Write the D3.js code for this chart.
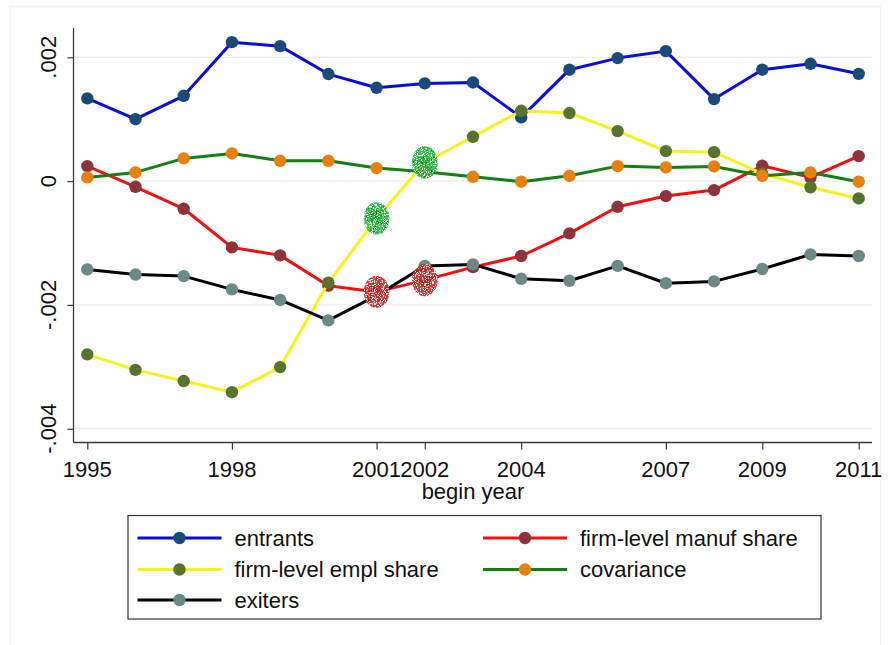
<!DOCTYPE html>
<html>
<head>
<meta charset="utf-8">
<script src="https://cdn.jsdelivr.net/npm/d3@7"></script>
<style>
  html, body { margin: 0; padding: 0; background: #fff; }
  svg { display: block; font-family: "Liberation Sans", Arial, sans-serif; }
</style>
</head>
<body>
<svg id="chart" width="891" height="645"></svg>
<script>
// Decomposition of the change by begin year
const years = [1995, 1996, 1997, 1998, 1999, 2000, 2001, 2002, 2003, 2004, 2005, 2006, 2007, 2008, 2009, 2010, 2011];

const entrants = [0.001336, 0.001000, 0.001378, 0.002245, 0.002180, 0.001729, 0.001507, 0.001578, 0.001594,
                  0.001029, 0.001800, 0.001987, 0.002100, 0.001325, 0.001800, 0.001895, 0.001733];
const manufShare = [0.000242, -0.000092, -0.000447, -0.001071, -0.001200, -0.001690, -0.001790, -0.001600, -0.001390,
                    -0.001210, -0.000845, -0.000415, -0.000242, -0.000145, 0.000247, 0.000060, 0.000404];
const emplShare = [-0.002800, -0.003050, -0.003230, -0.003410, -0.003005, -0.001640, -0.000603, 0.000300, 0.000716,
                   0.001136, 0.001100, 0.000808, 0.000485, 0.000468, 0.000120, -0.000100, -0.000280];
const covariance = [0.000060, 0.000140, 0.000367, 0.000447, 0.000328, 0.000328, 0.000210, 0.000150, 0.000070,
                    -0.000010, 0.000086, 0.000242, 0.000220, 0.000237, 0.000086, 0.000140, -0.000010];
const exiters = [-0.001427, -0.001510, -0.001535, -0.001750, -0.001920, -0.002250, -0.001850, -0.001370, -0.001346,
                 -0.001578, -0.001610, -0.001370, -0.001650, -0.001620, -0.001420, -0.001185, -0.001210];

const xTicks = [1995, 1998, 2001, 2002, 2004, 2007, 2009, 2011];
const yTicks = [0.002, 0, -0.002, -0.004];
const yTickLabels = [".002", "0", "-.002", "-.004"];
const xTitle = "begin year";

// Years whose points are circled on the two share series
const circledYears = [2001, 2002];

const series = [
  { name: "entrants", values: entrants, line: "#0a0ae6", marker: "#1b4a78" },
  { name: "firm-level manuf share", values: manufShare, line: "#f01010", marker: "#8e333a" },
  { name: "firm-level empl share", values: emplShare, line: "#f7f21c", marker: "#56742e" },
  { name: "covariance", values: covariance, line: "#128012", marker: "#e6800e" },
  { name: "exiters", values: exiters, line: "#000000", marker: "#6b8a84" }
];

const FONT = 22;
const svg = d3.select("#chart");

// faint outer frame
svg.append("rect").attr("x", 10.5).attr("y", 6.5).attr("width", 870).attr("height", 660)
  .attr("fill", "none").attr("stroke", "#f3f3f3").attr("stroke-width", 1);

const plot = { left: 73.5, right: 872, top: 28, bottom: 442.5 };

const x = d3.scaleLinear().domain([1995, 2011]).range([87.3, 858.7]);
const y = d3.scaleLinear().domain([-0.004, 0.002]).range([428.7, 57.3]);

// gridlines
svg.append("g").selectAll("line").data(yTicks).join("line")
  .attr("x1", plot.left).attr("x2", plot.right)
  .attr("y1", d => y(d)).attr("y2", d => y(d))
  .attr("stroke", "#ececec").attr("stroke-width", 1.2);

// y axis
const yAxis = svg.append("g").attr("transform", `translate(${plot.left},0)`)
  .call(d3.axisLeft(y).tickValues(yTicks).tickSize(6).tickFormat(""));
yAxis.select(".domain").attr("d", `M0,${plot.top}V${plot.bottom}`).attr("stroke", "#3a3a3a").attr("stroke-width", 1.3);
yAxis.selectAll(".tick line").attr("stroke", "#3a3a3a").attr("stroke-width", 1.2);

svg.append("g").selectAll("text").data(yTicks).join("text")
  .attr("transform", d => `translate(56,${y(d)}) rotate(-90)`)
  .attr("text-anchor", "middle")
  .attr("font-size", FONT).attr("fill", "#111")
  .text((d, i) => yTickLabels[i]);

// x axis
const xAxis = svg.append("g").attr("transform", `translate(0,${plot.bottom})`)
  .call(d3.axisBottom(x).tickValues(xTicks).tickSize(7).tickFormat(""));
xAxis.select(".domain").attr("d", `M${plot.left},0H${plot.right}`).attr("stroke", "#3a3a3a").attr("stroke-width", 1.3);
xAxis.selectAll(".tick line").attr("stroke", "#3a3a3a").attr("stroke-width", 1.2);

svg.append("g").selectAll("text").data(xTicks).join("text")
  .attr("x", d => x(d)).attr("y", 477)
  .attr("text-anchor", "middle")
  .attr("font-size", FONT).attr("fill", "#111")
  .text(d => d);

svg.append("text").attr("x", 473).attr("y", 499)
  .attr("text-anchor", "middle").attr("font-size", FONT).attr("fill", "#111")
  .text(xTitle);

// series: line then markers, in legend order
const lineGen = d3.line().x(d => x(d.year)).y(d => y(d.value));
series.forEach(s => {
  const pts = years.map((yr, i) => ({ year: yr, value: s.values[i] }));
  const g = svg.append("g");
  g.append("path").datum(pts).attr("d", lineGen)
    .attr("fill", "none").attr("stroke", s.line).attr("stroke-width", 3)
    .attr("stroke-linejoin", "round");
  g.selectAll("circle").data(pts).join("circle")
    .attr("cx", d => x(d.year)).attr("cy", d => y(d.value)).attr("r", 6.2)
    .attr("fill", s.marker);
});

// speckled highlight ovals
const defs = svg.append("defs");
const f = defs.append("filter").attr("id", "speckle")
  .attr("x", "-20%").attr("y", "-20%").attr("width", "140%").attr("height", "140%");
f.append("feTurbulence").attr("type", "fractalNoise").attr("baseFrequency", 1.1)
  .attr("numOctaves", 2).attr("seed", 4).attr("result", "noise");
f.append("feColorMatrix").attr("in", "noise").attr("type", "matrix")
  .attr("values", "0 0 0 0 1  0 0 0 0 1  0 0 0 0 1  9 0 0 0 -4.9").attr("result", "dots");
f.append("feComposite").attr("in", "dots").attr("in2", "SourceAlpha").attr("operator", "in").attr("result", "dotsIn");
f.append("feTurbulence").attr("type", "fractalNoise").attr("baseFrequency", 0.8)
  .attr("numOctaves", 1).attr("seed", 11).attr("result", "noise2");
f.append("feColorMatrix").attr("in", "noise2").attr("type", "matrix")
  .attr("values", "0 0 0 0 0  0 0 0 0 0.1  0 0 0 0 0  9 0 0 0 -5.2").attr("result", "dark");
f.append("feComposite").attr("in", "dark").attr("in2", "SourceAlpha").attr("operator", "in").attr("result", "darkIn");
const m = f.append("feMerge");
m.append("feMergeNode").attr("in", "SourceGraphic");
m.append("feMergeNode").attr("in", "darkIn");
m.append("feMergeNode").attr("in", "dotsIn");

const circled = [
  { values: emplShare, color: "#1fbd3a" },
  { values: manufShare, color: "#dc1f2a" }
];
const ovals = svg.append("g").attr("opacity", 0.88);
circled.forEach(c => {
  circledYears.forEach(yr => {
    const i = years.indexOf(yr);
    ovals.append("ellipse")
      .attr("cx", x(yr)).attr("cy", y(c.values[i]))
      .attr("rx", 12.8).attr("ry", 16.2)
      .attr("fill", c.color).attr("filter", "url(#speckle)");
  });
});

// legend
const legend = svg.append("g");
legend.append("rect").attr("x", 128).attr("y", 515.5).attr("width", 693).attr("height", 103.5)
  .attr("fill", "#fff").attr("stroke", "#333").attr("stroke-width", 1.2);
const cols = [137.5, 483];
const rows = [538, 569.5, 600];
series.forEach((s, i) => {
  const cx = cols[i % 2], cy = rows[Math.floor(i / 2)];
  const item = legend.append("g").attr("transform", `translate(${cx},${cy})`);
  item.append("line").attr("x1", 0).attr("x2", 84).attr("y1", 0).attr("y2", 0)
    .attr("stroke", s.line).attr("stroke-width", 3);
  item.append("circle").attr("cx", 42).attr("cy", 0).attr("r", 6.2).attr("fill", s.marker);
  item.append("text").attr("x", 97).attr("y", 7.8)
    .attr("font-size", FONT).attr("fill", "#111").text(s.name);
});
</script>
</body>
</html>
